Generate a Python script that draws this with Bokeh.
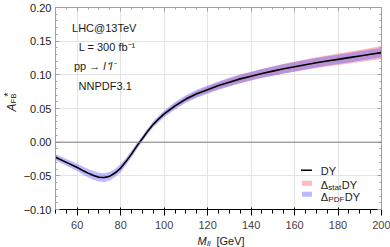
import math
from bokeh.plotting import figure
from bokeh.layouts import row, column
from bokeh.models import (Range1d, LinearAxis, Span, Label, FixedTicker,
                          CustomJSTickFormatter, BoxAnnotation, ColumnDataSource)
from bokeh.embed import file_html
from bokeh.resources import INLINE

# ---------------- data ----------------
mass = [50, 55, 60, 62.5, 65, 67.5, 70, 72.5, 75, 77.5, 80, 82.5, 85, 87.5, 90,
        92.5, 95, 97.5, 100, 105, 110, 115, 120, 125, 130, 135, 140, 145, 150,
        155, 160, 165, 170, 175, 180, 185, 190, 195, 200]
afb = [-0.0225, -0.030, -0.0375, -0.042, -0.046, -0.0495, -0.052, -0.0525,
       -0.0505, -0.0455, -0.0385, -0.0285, -0.0175, -0.0055, 0.0055, 0.0165,
       0.0265, 0.0345, 0.042, 0.054, 0.064, 0.072, 0.078, 0.084, 0.089, 0.094,
       0.098, 0.102, 0.1055, 0.109, 0.112, 0.115, 0.118, 0.1205, 0.123, 0.1255,
       0.128, 0.1305, 0.133]
pdf_err = [0.0045, 0.005, 0.0055, 0.006, 0.006, 0.0065, 0.0065, 0.0065, 0.0065,
           0.006, 0.006, 0.0055, 0.005, 0.0045, 0.004, 0.0042, 0.0045, 0.0048,
           0.005, 0.0055, 0.0055, 0.006, 0.006, 0.006, 0.0065, 0.0065, 0.0065,
           0.0065, 0.007, 0.007, 0.007, 0.007, 0.007, 0.007, 0.007, 0.007,
           0.007, 0.007, 0.007]
stat_err = [0.0015, 0.0015, 0.0015, 0.0015, 0.0015, 0.0015, 0.0015, 0.0015,
            0.0015, 0.0015, 0.001, 0.001, 0.001, 0.001, 0.001, 0.0012, 0.0015,
            0.0018, 0.002, 0.003, 0.0035, 0.004, 0.0045, 0.005, 0.0055, 0.006,
            0.006, 0.0065, 0.007, 0.0072, 0.0075, 0.0078, 0.008, 0.0083, 0.0085,
            0.0088, 0.009, 0.0093, 0.0097]

x_ticks = [60, 80, 100, 120, 140, 160, 180, 200]
y_ticks = [-0.10, -0.05, 0.0, 0.05, 0.10, 0.15, 0.20]
x_minor = [50 + 5 * i for i in range(31)]
y_minor = [round(-0.10 + 0.01 * i, 2) for i in range(31)]

info_lines = ["LHC@13TeV", "L = 300 fb\u207b\u00b9", "NNPDF3.1"]
legend_names = ["DY", "stat", "PDF"]

# ---------------- geometry (page pixels) ----------------
PAGE_W, PAGE_H = 390, 247
YLAB_W = 20          # strip left of the main plot holding the y title
BL, BR, BT, BB = 33, 9, 7, 20
W = PAGE_W - YLAB_W
H = 211 + BB
XLAB_H = PAGE_H - H  # strip below the main plot holding the x title
XMIN, XMAX, YMIN, YMAX = 50, 200, -0.10, 0.20
FL, FT = YLAB_W + BL, BT
FW, FH = W - BL - BR, H - BT - BB


def to_data(px, py):
    return (XMIN + (px - FL) / FW * (XMAX - XMIN),
            YMAX - (py - FT) / FH * (YMAX - YMIN))


FONT = "Liberation Sans"
TXT = "#1a1a1a"
FRAME = "#a0a0a0"

p = figure(width=W, height=H, output_backend="svg", toolbar_location=None,
           x_range=Range1d(XMIN, XMAX), y_range=Range1d(YMIN, YMAX),
           min_border_left=BL, min_border_right=BR, min_border_top=BT,
           min_border_bottom=BB, background_fill_color="white",
           border_fill_color="white")
p.outline_line_color = FRAME

xt = FixedTicker(ticks=x_ticks, minor_ticks=x_minor)
yt = FixedTicker(ticks=y_ticks, minor_ticks=y_minor)
yfmt = CustomJSTickFormatter(code="return (tick < -1e-9 ? '\u2212' : '') + Math.abs(tick).toFixed(2);")
blank = CustomJSTickFormatter(code="return '';")

p.xaxis.ticker = xt
p.yaxis.ticker = yt
p.yaxis.formatter = yfmt
p.xgrid.ticker = xt
p.ygrid.ticker = yt
for g in (p.xgrid, p.ygrid):
    g.grid_line_color = "#e3e3e3"
    g.grid_line_width = 1

top_ax = LinearAxis(ticker=xt, formatter=blank)
right_ax = LinearAxis(ticker=yt, formatter=blank)
p.add_layout(top_ax, "above")
p.add_layout(right_ax, "right")

for ax in (p.xaxis[0], p.yaxis[0], top_ax, right_ax):
    ax.axis_line_color = FRAME
    ax.major_tick_line_color = FRAME
    ax.minor_tick_line_color = FRAME
    ax.major_tick_in = 4
    ax.major_tick_out = 0
    ax.minor_tick_in = 2
    ax.minor_tick_out = 0
    ax.major_label_text_font = FONT
    ax.major_label_text_font_size = "11px"
    ax.major_label_text_color = TXT
for ax in (top_ax, right_ax):
    ax.major_label_standoff = 0
p.xaxis[0].major_label_standoff = 6
p.yaxis[0].major_label_standoff = 4

p.add_layout(Span(location=0, dimension="width", line_color="#808080", line_width=1))

src = ColumnDataSource(dict(
    x=mass, y=afb,
    slo=[a - s for a, s in zip(afb, stat_err)], shi=[a + s for a, s in zip(afb, stat_err)],
    plo=[a - s for a, s in zip(afb, pdf_err)], phi=[a + s for a, s in zip(afb, pdf_err)],
))
PINK, BLUE, ALPHA = "#ff5a5a", "#5a5aff", 0.42
p.varea(x="x", y1="slo", y2="shi", source=src, fill_color=PINK, fill_alpha=ALPHA)
p.varea(x="x", y1="plo", y2="phi", source=src, fill_color=BLUE, fill_alpha=ALPHA)
p.line(x="x", y="y", source=src, line_color="black", line_width=1.6)


def mklabel(fig, x, y, text, size, align="left", style="normal", angle=0.0):
    fig.add_layout(Label(x=x, y=y, text=text, text_font=FONT,
                         text_font_size=f"{size}px", text_align=align,
                         text_baseline="alphabetic", text_font_style=style,
                         text_color=TXT, angle=angle))


def lab(text, px, py, size, align="left", style="normal"):
    x, y = to_data(px, py)
    mklabel(p, x, y, text, size, align, style)


# info box
lab(info_lines[0], 102, 28, 11, align="center")
lab(info_lines[1], 105, 47, 11, align="center")
lab("pp \u2192", 98, 66, 11, align="right")
lab("l\u207al\u207b", 101, 66, 11, align="left", style="italic")
lab(info_lines[2], 103, 86, 11, align="center")

# legend
def box(px0, px1, py0, py1, color, alpha):
    x0, y1 = to_data(px0, py0)
    x1, y0 = to_data(px1, py1)
    p.add_layout(BoxAnnotation(left=x0, right=x1, bottom=y0, top=y1,
                               fill_color=color, fill_alpha=alpha,
                               line_alpha=0, level="overlay"))

box(300, 311, 170.5, 172, "black", 1.0)
box(301, 311, 182, 187, PINK, ALPHA)
box(301, 311, 193, 198, BLUE, ALPHA)

lab(legend_names[0], 320, 172, 11)
lab("\u0394", 320, 186, 11)
lab(legend_names[1], 327.5, 188.5, 8)
lab("DY", 341, 186, 11)
lab("\u0394", 320, 198, 11)
lab(legend_names[2], 327.5, 200.5, 8)
lab("DY", 344, 198, 11)


def strip(w, h):
    f = figure(width=w, height=h, output_backend="svg", toolbar_location=None,
               x_range=Range1d(0, w), y_range=Range1d(0, h),
               x_axis_location=None, y_axis_location=None, min_border=0,
               background_fill_color="white", border_fill_color="white")
    f.outline_line_color = None
    f.grid.visible = False
    return f


# y-axis title strip (coordinates = page pixels, y flipped)
ylab = strip(YLAB_W, H)
ang = math.pi / 2
mklabel(ylab, 11, H - 119, "A", 12, style="italic", angle=ang)
mklabel(ylab, 13, H - 110, "FB", 8, angle=ang)
mklabel(ylab, 7, H - 102, "*", 11, angle=ang)

# x-axis title strip (coordinates = page pixels, y flipped)
xlab = strip(PAGE_W, XLAB_H)
mklabel(xlab, 197, PAGE_H - 240, "M", 11, style="italic")
mklabel(xlab, 206.5, PAGE_H - 242.5, "ll", 8, style="italic")
mklabel(xlab, 216, PAGE_H - 240, "[GeV]", 11)

layout = column(row(ylab, p, spacing=0), xlab, spacing=0)
open("out.html", "w").write(file_html(layout, INLINE))
